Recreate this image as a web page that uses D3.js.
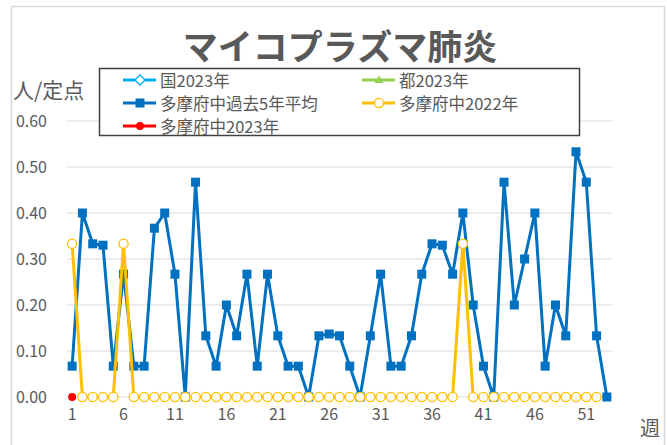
<!DOCTYPE html>
<html>
<head>
<meta charset="utf-8">
<script src="https://cdn.jsdelivr.net/npm/d3@7"></script>
<style>
  body { margin: 0; background: #fff; }
  svg text { font-family: "Noto Sans CJK JP", "Noto Sans", sans-serif; fill: #595959; }
</style>
</head>
<body>
<div id="chart"></div>
<script>
// ------- Data -------
const title = "マイコプラズマ肺炎"
const weeks = d3.range(1, 54)
const tickWeeks = [1, 6, 11, 16, 21, 26, 31, 36, 41, 46, 51]
const yTicks = [0, 0.1, 0.2, 0.3, 0.4, 0.5, 0.6]

// 多摩府中過去5年平均 (53 weeks)
const avg5 = [0.067, 0.400, 0.333, 0.330, 0.067, 0.267, 0.067, 0.067, 0.367, 0.400,
              0.267, 0.000, 0.467, 0.133, 0.067, 0.200, 0.133, 0.267, 0.067, 0.267,
              0.133, 0.067, 0.067, 0.000, 0.133, 0.137, 0.133, 0.067, 0.000, 0.133,
              0.267, 0.067, 0.067, 0.133, 0.267, 0.333, 0.330, 0.267, 0.400, 0.200,
              0.067, 0.000, 0.467, 0.200, 0.300, 0.400, 0.067, 0.200, 0.133, 0.533,
              0.467, 0.133, 0.000]
// 多摩府中2022年 (52 weeks)
const tama2022 = [0.333, 0, 0, 0, 0, 0.333, 0, 0, 0, 0,
                  0, 0, 0, 0, 0, 0, 0, 0, 0, 0,
                  0, 0, 0, 0, 0, 0, 0, 0, 0, 0,
                  0, 0, 0, 0, 0, 0, 0, 0, 0.333, 0,
                  0, 0, 0, 0, 0, 0, 0, 0, 0, 0,
                  0, 0]
// 多摩府中2023年
const tama2023 = [0]
// 国2023年 / 都2023年 (no values yet)
const kuni2023 = []
const to2023 = []

const legendItems = [
  {name: "国2023年", color: "#00B0F0", marker: "diamond", col: 0, row: 0},
  {name: "都2023年", color: "#92D050", marker: "triangle", col: 1, row: 0},
  {name: "多摩府中過去5年平均", color: "#0070C0", marker: "square", col: 0, row: 1},
  {name: "多摩府中2022年", color: "#FFC000", marker: "circle", col: 1, row: 1},
  {name: "多摩府中2023年", color: "#FF0000", marker: "dot", col: 0, row: 2}
]

// ------- Layout -------
const width = 667, height = 445
const svg = d3.select("#chart").append("svg")
    .attr("width", width)
    .attr("height", height)

// outer chart border
svg.append("rect")
   .attr("x", 11.5).attr("y", 6.5)
   .attr("width", 653).attr("height", 450)
   .attr("fill", "none")
   .attr("stroke", "#d9d9d9")
   .attr("stroke-width", 1.5)

let xScale = d3.scaleBand().domain(weeks).range([67, 612])
let yScale = d3.scaleLinear().domain([0, 0.6]).range([397, 121])
let xPos = w => xScale(w) + xScale.bandwidth() / 2

// gridlines
svg.append("g")
   .selectAll("line")
   .data(yTicks)
   .join("line")
   .attr("x1", 67).attr("x2", 612)
   .attr("y1", d => yScale(d)).attr("y2", d => yScale(d))
   .attr("stroke", "#d9d9d9")
   .attr("stroke-width", 1)

// y axis
let yAxis = svg.append("g")
   .attr("transform", "translate(47,0)")
   .call(d3.axisLeft(yScale).tickValues(yTicks).tickFormat(d3.format(".2f")).tickSize(0).tickPadding(0))
yAxis.select(".domain").remove()
yAxis.selectAll("text").attr("font-size", 16).style("fill", "#595959")

// x axis
let xAxis = svg.append("g")
   .attr("transform", "translate(0,409)")
   .call(d3.axisBottom(xScale).tickValues(tickWeeks).tickSize(0).tickPadding(0))
xAxis.select(".domain").remove()
xAxis.selectAll("text").attr("font-size", 16).style("fill", "#595959")

// axis titles
svg.append("text").attr("x", 13).attr("y", 89)
   .attr("dominant-baseline", "central")
   .attr("font-size", 21).text("人/定点")
svg.append("text").attr("x", 650).attr("y", 427)
   .attr("text-anchor", "middle").attr("dominant-baseline", "central")
   .attr("font-size", 20).text("週")

// chart title
svg.append("text").attr("x", 340).attr("y", 44)
   .attr("text-anchor", "middle").attr("dominant-baseline", "central")
   .attr("font-size", 35).attr("font-weight", "bold")
   .text(title)

// ------- Series -------
let line = d3.line().x((d, i) => xPos(weeks[i])).y(d => yScale(d))

// 5-year average
svg.append("path").datum(avg5)
   .attr("d", line).attr("fill", "none")
   .attr("stroke", "#0070C0").attr("stroke-width", 3)
   .attr("stroke-linejoin", "round")
svg.append("g").selectAll("rect")
   .data(avg5).join("rect")
   .attr("x", (d, i) => xPos(weeks[i]) - 4.5)
   .attr("y", d => yScale(d) - 4.5)
   .attr("width", 9).attr("height", 9)
   .attr("fill", "#0070C0")

// 2022
svg.append("path").datum(tama2022)
   .attr("d", line).attr("fill", "none")
   .attr("stroke", "#FFC000").attr("stroke-width", 3)
   .attr("stroke-linejoin", "round")
svg.append("g").selectAll("circle")
   .data(tama2022).join("circle")
   .attr("cx", (d, i) => xPos(weeks[i]))
   .attr("cy", d => yScale(d))
   .attr("r", 4.6)
   .attr("fill", "#fff")
   .attr("stroke", "#FFC000").attr("stroke-width", 1.3)

// 2023
svg.append("path").datum(tama2023)
   .attr("d", line).attr("fill", "none")
   .attr("stroke", "#FF0000").attr("stroke-width", 3)
svg.append("g").selectAll("circle")
   .data(tama2023).join("circle")
   .attr("cx", (d, i) => xPos(weeks[i]))
   .attr("cy", d => yScale(d))
   .attr("r", 4)
   .attr("fill", "#FF0000")

// ------- Legend -------
let legend = svg.append("g")
legend.append("rect")
   .attr("x", 99.5).attr("y", 68.5)
   .attr("width", 480).attr("height", 67)
   .attr("fill", "#fff")
   .attr("stroke", "#404040").attr("stroke-width", 1.5)

let items = legend.selectAll("g.item")
   .data(legendItems).join("g")
   .attr("class", "item")
   .attr("transform", d => `translate(${d.col ? 362 : 123},${80 + d.row * 23})`)

items.append("line")
   .attr("x1", 0).attr("x2", 33)
   .attr("stroke", d => d.color).attr("stroke-width", 3)

items.each(function(d){
  let g = d3.select(this)
  if (d.marker == "diamond") {
    g.append("path").attr("d", "M17,-5L22,0L17,5L12,0Z")
     .attr("fill", "#fff").attr("stroke", d.color).attr("stroke-width", 1.3)
  } else if (d.marker == "triangle") {
    g.append("path").attr("d", "M17,-4.5L21.5,3L12.5,3Z").attr("fill", d.color)
  } else if (d.marker == "square") {
    g.append("rect").attr("x", 12.5).attr("y", -4.5).attr("width", 9).attr("height", 9).attr("fill", d.color)
  } else if (d.marker == "circle") {
    g.append("circle").attr("cx", 17).attr("r", 4.6)
     .attr("fill", "#fff").attr("stroke", d.color).attr("stroke-width", 1.3)
  } else {
    g.append("circle").attr("cx", 17).attr("r", 4).attr("fill", d.color)
  }
})

items.append("text")
   .attr("x", 37)
   .attr("dominant-baseline", "central")
   .attr("font-size", 16.5)
   .text(d => d.name)
</script>
</body>
</html>
